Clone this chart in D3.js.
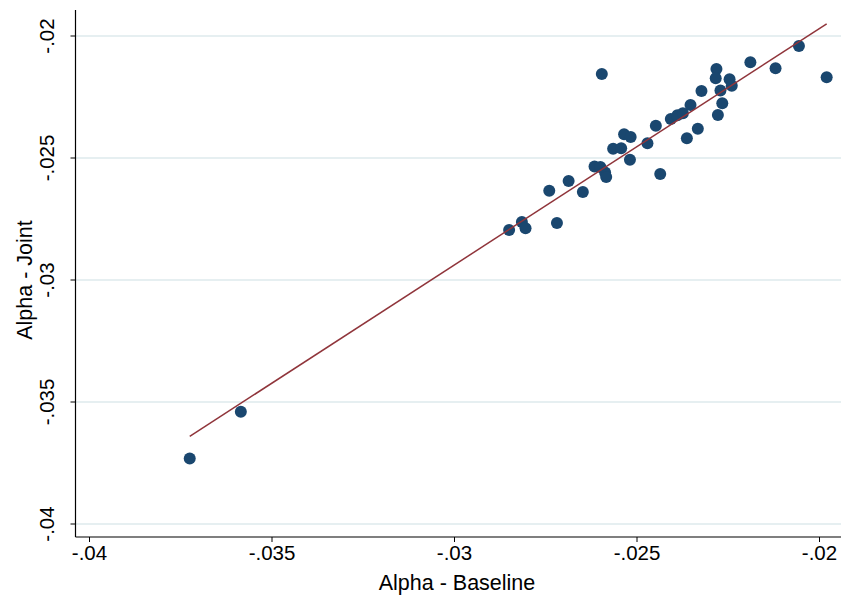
<!DOCTYPE html>
<html>
<head>
<meta charset="utf-8">
<script src="https://cdn.jsdelivr.net/npm/d3@7"></script>
<style>
  html, body { margin: 0; padding: 0; background: #fff; }
  text { font-family: "Liberation Sans", Arial, Helvetica, sans-serif; fill: #000; }
</style>
</head>
<body>
<svg id="chart" width="841" height="595"></svg>
<script>
// Baseline vs joint estimates of alpha, one point per unit
const alphaBaseline = [
  -0.03724, -0.03584, -0.02849, -0.02814, -0.02804, -0.02739, -0.02718, -0.02686,
  -0.02647, -0.02615, -0.02599, -0.02586, -0.02583, -0.02595, -0.02564, -0.02542,
  -0.02534, -0.02516, -0.02518, -0.02470, -0.02447, -0.02435, -0.02406, -0.02388,
  -0.02373, -0.02362, -0.02352, -0.02332, -0.02322, -0.02281, -0.02283, -0.02270,
  -0.02265, -0.02277, -0.02245, -0.02239, -0.02188, -0.02119, -0.02055, -0.01979
];
const alphaJoint = [
  -0.03732, -0.03540, -0.02795, -0.02762, -0.02788, -0.02634, -0.02766, -0.02594,
  -0.02639, -0.02535, -0.02537, -0.02559, -0.02578, -0.02156, -0.02462, -0.02460,
  -0.02403, -0.02414, -0.02507, -0.02440, -0.02368, -0.02566, -0.02340, -0.02325,
  -0.02317, -0.02419, -0.02283, -0.02380, -0.02225, -0.02135, -0.02173, -0.02223,
  -0.02276, -0.02324, -0.02177, -0.02204, -0.02108, -0.02132, -0.02041, -0.02169
];
const xTicks = [-0.04, -0.035, -0.03, -0.025, -0.02];
const yTicks = [-0.02, -0.025, -0.03, -0.035, -0.04];
const xTickLabels = ["-.04", "-.035", "-.03", "-.025", "-.02"];
const yTickLabels = ["-.02", "-.025", "-.03", "-.035", "-.04"];
const xTitle = "Alpha - Baseline";
const yTitle = "Alpha - Joint";

const points = alphaBaseline.map((x, i) => ({ x, y: alphaJoint[i] }));

const svg = d3.select("#chart");
const frame = { left: 75.5, top: 10, right: 841, bottom: 537 };

const x = d3.scaleLinear().domain([-0.04, -0.02]).range([89, 819]);
const y = d3.scaleLinear().domain([-0.02, -0.04]).range([36, 524]);

// Horizontal grid lines
svg.append("g").selectAll("line").data(yTicks).join("line")
  .attr("x1", frame.left).attr("x2", frame.right)
  .attr("y1", d => y(d)).attr("y2", d => y(d))
  .attr("stroke", "#e6eff1").attr("stroke-width", 1.8);

// Linear fit (least squares) over the observed x range
const mx = d3.mean(points, d => d.x), my = d3.mean(points, d => d.y);
const sxy = d3.sum(points, d => (d.x - mx) * (d.y - my));
const sxx = d3.sum(points, d => (d.x - mx) ** 2);
const slope = sxy / sxx, intercept = my - slope * mx;
const [xmin, xmax] = d3.extent(points, d => d.x);

// Points
svg.append("g").selectAll("circle").data(points).join("circle")
  .attr("cx", d => x(d.x)).attr("cy", d => y(d.y)).attr("r", 6)
  .attr("fill", "#1a476f");

svg.append("line")
  .attr("x1", x(xmin)).attr("y1", y(intercept + slope * xmin))
  .attr("x2", x(xmax)).attr("y2", y(intercept + slope * xmax))
  .attr("stroke", "#90353b").attr("stroke-width", 1.5);

// Axes
const xAxis = d3.axisBottom(x).tickValues(xTicks)
  .tickFormat((d, i) => xTickLabels[i]).tickSize(5).tickPadding(3);
const gx = svg.append("g").attr("transform", `translate(0,${frame.bottom})`).call(xAxis);
gx.select(".domain").remove();
gx.selectAll("line").attr("stroke", "#000");
gx.selectAll("text").attr("font-size", 20.5).attr("font-family", null);
gx.append("line").attr("x1", frame.left).attr("x2", frame.right)
  .attr("stroke", "#000").attr("stroke-width", 1.2);

const yAxis = d3.axisLeft(y).tickValues(yTicks)
  .tickFormat((d, i) => yTickLabels[i]).tickSize(5).tickPadding(4);
const gy = svg.append("g").attr("transform", `translate(${frame.left},0)`).call(yAxis);
gy.select(".domain").remove();
gy.selectAll("line").attr("stroke", "#000");
gy.selectAll("text")
  .attr("font-size", 20.5).attr("font-family", null)
  .attr("x", null).attr("dy", null)
  .attr("text-anchor", "middle")
  .attr("transform", d => `translate(-22,${y(d)}) rotate(-90)`)
  .attr("y", 0);
gy.selectAll(".tick").attr("transform", null);
gy.selectAll(".tick line").attr("y1", d => y(d)).attr("y2", d => y(d));
gy.append("line").attr("y1", frame.top).attr("y2", frame.bottom)
  .attr("stroke", "#000").attr("stroke-width", 1.2);

// Axis titles
svg.append("text").attr("x", x(-0.03) + 3).attr("y", 590)
  .attr("text-anchor", "middle").attr("font-size", 21.5).text(xTitle);
svg.append("text")
  .attr("transform", `translate(32,${y(-0.03)}) rotate(-90)`)
  .attr("text-anchor", "middle").attr("font-size", 21.5).text(yTitle);
</script>
</body>
</html>
